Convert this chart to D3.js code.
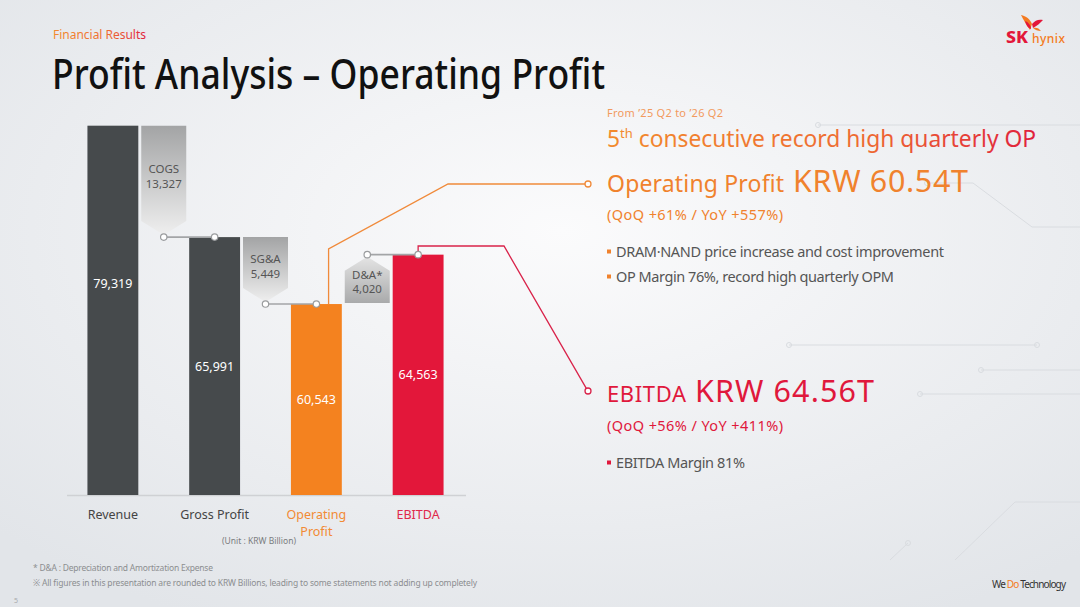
<!DOCTYPE html>
<html>
<head>
<meta charset="utf-8">
<script src="https://cdn.jsdelivr.net/npm/d3@7"></script>
<style>
html, body { margin: 0; padding: 0; background: #eceef1; }
svg { display: block; font-family: "Noto Sans", "Open Sans", sans-serif; }
</style>
</head>
<body>
<div id="slide"></div>
<script>
/* Chart values (KRW billion) */
var categories = ["Revenue", "Gross Profit", "Operating Profit", "EBITDA"];
var categoryLines = [["Revenue"], ["Gross Profit"], ["Operating", "Profit"], ["EBITDA"]];
var totals = [79319, 65991, 60543, 64563];
var stepNames = ["COGS", "SG&A", "D&A*"];
var stepValues = [13327, 5449, 4020];

/* Colours */
var barColors = ["#464a4c", "#464a4c", "#f4821f", "#e3173a"];
var catColors = ["#444", "#444", "#f28a34", "#e0284a"];
var orange = "#f0822d";
var red = "#e0183c";

var width = 1080; /* slide width */
var height = 607; /* slide height */

/* Decorative circuit lines on the right of the slide */
var decoLines = [
    [[818, 125], [1080, 125]],
    [[927, 183], [973, 183], [1032, 227], [1080, 227]],
    [[789, 345], [1037, 345]],
    [[981, 370], [1080, 370]],
    [[920, 394], [1080, 394]],
    [[1080, 502], [1015, 502], [955, 560]],
    [[908, 543], [890, 560]]
];

var svg = d3.select("#slide")
    .append("svg")
    .attr("width", width)
    .attr("height", height)
;

var defs = svg.append("defs");

/* background */
var bg = defs.append("radialGradient")
    .attr("id", "bg")
    .attr("cx", "52%").attr("cy", "38%").attr("r", "72%");
bg.append("stop").attr("offset", "0%").attr("stop-color", "#fbfbfc");
bg.append("stop").attr("offset", "100%").attr("stop-color", "#e2e5e9");

/* text gradient orange -> red */
var tg = defs.append("linearGradient").attr("id", "textGrad")
    .attr("x1", "0").attr("x2", "1").attr("y1", "0").attr("y2", "0");
tg.append("stop").attr("offset", "0%").attr("stop-color", "#f28a2e");
tg.append("stop").attr("offset", "60%").attr("stop-color", "#ee6a32");
tg.append("stop").attr("offset", "100%").attr("stop-color", "#e0203c");

/* box gradients: dark at the flat end, light at the tip */
var gd = defs.append("linearGradient").attr("id", "boxDown")
    .attr("x1", "0").attr("x2", "0").attr("y1", "0").attr("y2", "1");
gd.append("stop").attr("offset", "0%").attr("stop-color", "#a3a4a5");
gd.append("stop").attr("offset", "100%").attr("stop-color", "#efefef");
var gu = defs.append("linearGradient").attr("id", "boxUp")
    .attr("x1", "0").attr("x2", "0").attr("y1", "0").attr("y2", "1");
gu.append("stop").attr("offset", "0%").attr("stop-color", "#e4e4e4");
gu.append("stop").attr("offset", "100%").attr("stop-color", "#a9aaab");

svg.append("rect")
    .attr("width", width)
    .attr("height", height)
    .attr("fill", "url(#bg)")
;

/* decorative lines */
var deco = svg.append("g").attr("fill", "none").attr("stroke", "#d9dce0").attr("stroke-width", 1);
deco.selectAll("path")
    .data(decoLines)
    .enter().append("path")
    .attr("d", d3.line())
;
deco.selectAll("circle")
    .data(decoLines.filter(function (d) { return d[0][0] < 1080; }))
    .enter().append("circle")
    .attr("cx", function (d) { return d[0][0]; })
    .attr("cy", function (d) { return d[0][1]; })
    .attr("r", 2.5)
;
deco.append("circle").attr("cx", 1037).attr("cy", 345).attr("r", 2.5);

/* HEADER */
svg.append("text")
    .attr("x", 53).attr("y", 39)
    .attr("font-size", 12)
    .attr("fill", "url(#textGrad)")
    .attr("textLength", 93)
    .text("Financial Results")
;

svg.append("text")
    .attr("x", 52).attr("y", 89)
    .attr("font-size", 41.5)
    .attr("font-weight", 500)
    .attr("fill", "#111")
    .attr("textLength", 553)
    .attr("lengthAdjust", "spacingAndGlyphs")
    .text("Profit Analysis \u2013 Operating Profit")
;

/* logo */
var logo = svg.append("g");
logo.append("path")
    .attr("d", "M1021,15 C1026,16 1030,19 1032,24 L1030,30 C1027,26 1024,21 1021,15 Z")
    .attr("fill", "#f47a20");
logo.append("path")
    .attr("d", "M1032,24 C1035,20 1039,19 1043,20 C1040,23 1037,26 1033,28 Z")
    .attr("fill", "#e3173a");
logo.append("path")
    .attr("d", "M1025,21 C1028,22 1031,25 1031,29 C1028,28 1026,25 1025,21 Z")
    .attr("fill", "#e3173a");
logo.append("path")
    .attr("d", "M1033,28 C1036,27 1039,28 1041,31 C1038,31 1035,30 1033,28 Z")
    .attr("fill", "#f47a20");
logo.append("text")
    .attr("x", 1006).attr("y", 43)
    .attr("font-size", 16).attr("font-weight", 800)
    .attr("fill", "#e3173a")
    .attr("textLength", 22).attr("lengthAdjust", "spacingAndGlyphs")
    .text("SK");
logo.append("text")
    .attr("x", 1032).attr("y", 43)
    .attr("font-size", 12).attr("font-weight", 500)
    .attr("fill", "#f47a20")
    .attr("textLength", 33)
    .text("hynix");

/* CHART */
var chart = svg.append("g").attr("id", "waterfall");

var x = d3.scaleBand()
    .domain(categories)
    .range([62, 469])
    .paddingInner(0.5)
    .paddingOuter(0.25)
;
/* value axis is broken: the top part (above GP) is compressed */
var y = d3.scaleLinear()
    .domain([45000, 66000, 80000])
    .range([495, 237, 120])
;
var bw = x.bandwidth();
var y0 = y.range()[0];

/* baseline */
chart.append("line")
    .attr("x1", 67).attr("x2", 466)
    .attr("y1", y0 + 0.5).attr("y2", y0 + 0.5)
    .attr("stroke", "#cfd1d4")
    .attr("stroke-width", 1.5)
;

/* callout lines to the right-hand headlines */
var opX = x(categories[2]) + bw * 0.74;
var ebX = x(categories[3]) + bw / 2;
chart.append("path")
    .attr("d", d3.line()([[opX, y(totals[2])], [opX, 249], [448, 184], [585, 184]]))
    .attr("fill", "none").attr("stroke", "#f08a3a").attr("stroke-width", 1.3);
chart.append("circle")
    .attr("cx", 588).attr("cy", 184).attr("r", 3)
    .attr("fill", "#fff").attr("stroke", "#f08a3a").attr("stroke-width", 1.3);
chart.append("path")
    .attr("d", d3.line()([[ebX, y(totals[3])], [ebX, 246], [504, 246], [586.3, 388.4]]))
    .attr("fill", "none").attr("stroke", "#d9234a").attr("stroke-width", 1.3);
chart.append("circle")
    .attr("cx", 588).attr("cy", 391).attr("r", 3)
    .attr("fill", "#fff").attr("stroke", "#d9234a").attr("stroke-width", 1.3);

/* bars */
chart.selectAll("rect.bar")
    .data(totals)
    .enter().append("rect")
    .attr("class", "bar")
    .attr("x", function (d, i) { return x(categories[i]); })
    .attr("y", function (d) { return y(d); })
    .attr("width", bw)
    .attr("height", function (d) { return y0 - y(d); })
    .attr("fill", function (d, i) { return barColors[i]; })
;

chart.selectAll("text.val")
    .data(totals)
    .enter().append("text")
    .attr("class", "val")
    .attr("x", function (d, i) { return x(categories[i]) + bw / 2; })
    .attr("y", function (d, i) {
        var ly = i == 0 ? y(d) + 158 : (y(d) + y0) / 2;
        return ly + 4.5;
    })
    .attr("text-anchor", "middle")
    .attr("font-size", 12.5)
    .attr("fill", "#fff")
    .text(d3.format(","))
;

/* step boxes between the bars */
var steps = stepValues.map(function (v, i) {
    var from = totals[i], to = totals[i + 1];
    var cx = x(categories[i]) + bw + (x(categories[i + 1]) - x(categories[i]) - bw) / 2;
    var down = to < from;
    return { name: stepNames[i], value: v, cx: cx, down: down,
             flat: y(from) + (down ? 0 : -1), tip: y(to) + (down ? -2 : 2),
             yTo: y(to), nextX: x(categories[i + 1]) + bw / 2 };
});

var hw = 22.5; /* half box width */
var chev = 14; /* chevron depth */

var box = chart.selectAll("g.step")
    .data(steps)
    .enter().append("g")
    .attr("class", "step")
;
box.append("path")
    .attr("d", function (d) {
        var sh = d.down ? d.tip - chev : d.tip + chev;
        return "M" + (d.cx - hw) + "," + d.flat + "H" + (d.cx + hw) + "V" + sh +
               "L" + d.cx + "," + d.tip + "L" + (d.cx - hw) + "," + sh + "Z";
    })
    .attr("fill", function (d) { return d.down ? "url(#boxDown)" : "url(#boxUp)"; })
;
box.append("line")
    .attr("x1", function (d) { return d.cx; })
    .attr("x2", function (d) { return d.nextX; })
    .attr("y1", function (d) { return d.yTo; })
    .attr("y2", function (d) { return d.yTo; })
    .attr("stroke", "#a3a5a7").attr("stroke-width", 1.6)
;
box.selectAll("circle")
    .data(function (d) { return [[d.cx, d.yTo], [d.nextX, d.yTo]]; })
    .enter().append("circle")
    .attr("cx", function (p) { return p[0]; })
    .attr("cy", function (p) { return p[1]; })
    .attr("r", 3.2)
    .attr("fill", "#fff").attr("stroke", "#9a9c9e").attr("stroke-width", 1.2)
;
box.append("text")
    .attr("x", function (d) { return d.cx; })
    .attr("y", function (d) { var m = (d.flat + d.tip) / 2; return (d.down ? m - 11 : m - 5) + 4; })
    .attr("text-anchor", "middle").attr("font-size", 11.5).attr("fill", "#555")
    .text(function (d) { return d.name; })
;
box.append("text")
    .attr("x", function (d) { return d.cx; })
    .attr("y", function (d) { var m = (d.flat + d.tip) / 2; return (d.down ? m + 4 : m + 9) + 4; })
    .attr("text-anchor", "middle").attr("font-size", 11.5).attr("fill", "#555")
    .text(function (d) { return d3.format(",")(d.value); })
;

/* category labels */
var cat = chart.selectAll("text.cat")
    .data(categoryLines)
    .enter().append("text")
    .attr("class", "cat")
    .attr("text-anchor", "middle")
    .attr("font-size", 12.5)
    .attr("fill", function (d, i) { return catColors[i]; })
;
cat.selectAll("tspan")
    .data(function (d, i) { return d.map(function (s) { return { s: s, i: i }; }); })
    .enter().append("tspan")
    .attr("x", function (d) { return x(categories[d.i]) + bw / 2; })
    .attr("y", function (d, j) { return 519 + j * 17; })
    .text(function (d) { return d.s; })
;

chart.append("text")
    .attr("x", 259).attr("y", 544)
    .attr("text-anchor", "middle")
    .attr("font-size", 8.5).attr("fill", "#7a7c7e")
    .text("(Unit : KRW Billion)")
;

/* RIGHT-HAND TEXT */
var right = svg.append("g");
right.append("text")
    .attr("x", 607).attr("y", 117)
    .attr("font-size", 11).attr("fill", "#f29a5e")
    .attr("textLength", 116)
    .text("From \u201925 Q2 to \u201926 Q2");

var head = right.append("text")
    .attr("x", 607).attr("y", 147)
    .attr("font-size", 22.8)
    .attr("fill", "url(#textGrad)");
head.append("tspan").text("5");
head.append("tspan").attr("font-size", 13).attr("dy", -9).text("th");
head.append("tspan").attr("dy", 9).text(" consecutive record high quarterly OP");

right.append("text")
    .attr("x", 607).attr("y", 192)
    .attr("font-size", 23).attr("fill", orange)
    .attr("textLength", 177)
    .text("Operating Profit");
right.append("text")
    .attr("x", 793).attr("y", 192)
    .attr("font-size", 30.5).attr("fill", orange)
    .attr("textLength", 175)
    .text("KRW 60.54T");
right.append("text")
    .attr("x", 607).attr("y", 220)
    .attr("font-size", 14.5).attr("fill", orange)
    .attr("textLength", 176)
    .text("(QoQ +61% / YoY +557%)");

var bullets = [
    { t: "DRAM\u00b7NAND price increase and cost improvement", y: 256.5, w: 328, c: orange },
    { t: "OP Margin 76%, record high quarterly OPM", y: 281.5, w: 278, c: orange },
    { t: "EBITDA Margin 81%", y: 467.5, w: 129, c: red }
];
right.selectAll("rect.bul")
    .data(bullets)
    .enter().append("rect")
    .attr("x", 607).attr("y", function (d) { return d.y - 7; })
    .attr("width", 4).attr("height", 4)
    .attr("fill", function (d) { return d.c; });
right.selectAll("text.bul")
    .data(bullets)
    .enter().append("text")
    .attr("x", 616).attr("y", function (d) { return d.y; })
    .attr("font-size", 14.5).attr("fill", "#555")
    .attr("textLength", function (d) { return d.w; })
    .text(function (d) { return d.t; });

right.append("text")
    .attr("x", 607).attr("y", 402)
    .attr("font-size", 22).attr("fill", red)
    .attr("textLength", 79)
    .text("EBITDA");
right.append("text")
    .attr("x", 695).attr("y", 402)
    .attr("font-size", 30.5).attr("fill", red)
    .attr("textLength", 179)
    .text("KRW 64.56T");
right.append("text")
    .attr("x", 607).attr("y", 431)
    .attr("font-size", 14.5).attr("fill", red)
    .attr("textLength", 176)
    .text("(QoQ +56% / YoY +411%)");

/* FOOTER */
svg.append("text")
    .attr("x", 33).attr("y", 571)
    .attr("font-size", 8.5).attr("fill", "#8c8e90")
    .attr("textLength", 180)
    .text("* D&A : Depreciation and Amortization Expense");
svg.append("text")
    .attr("x", 33).attr("y", 586)
    .attr("font-size", 8.5).attr("fill", "#8c8e90")
    .attr("textLength", 444)
    .text("\u203b All figures in this presentation are rounded to KRW Billions, leading to some statements not adding up completely");
svg.append("text")
    .attr("x", 14).attr("y", 603)
    .attr("font-size", 7).attr("fill", "#a8aaac")
    .text("5");

var wdt = svg.append("text")
    .attr("x", 992).attr("y", 588)
    .attr("font-size", 10).attr("fill", "#333")
    .attr("textLength", 74);
wdt.append("tspan").text("We ");
wdt.append("tspan").attr("fill", "#f47a20").text("Do");
wdt.append("tspan").text(" Technology");
</script>
</body>
</html>
